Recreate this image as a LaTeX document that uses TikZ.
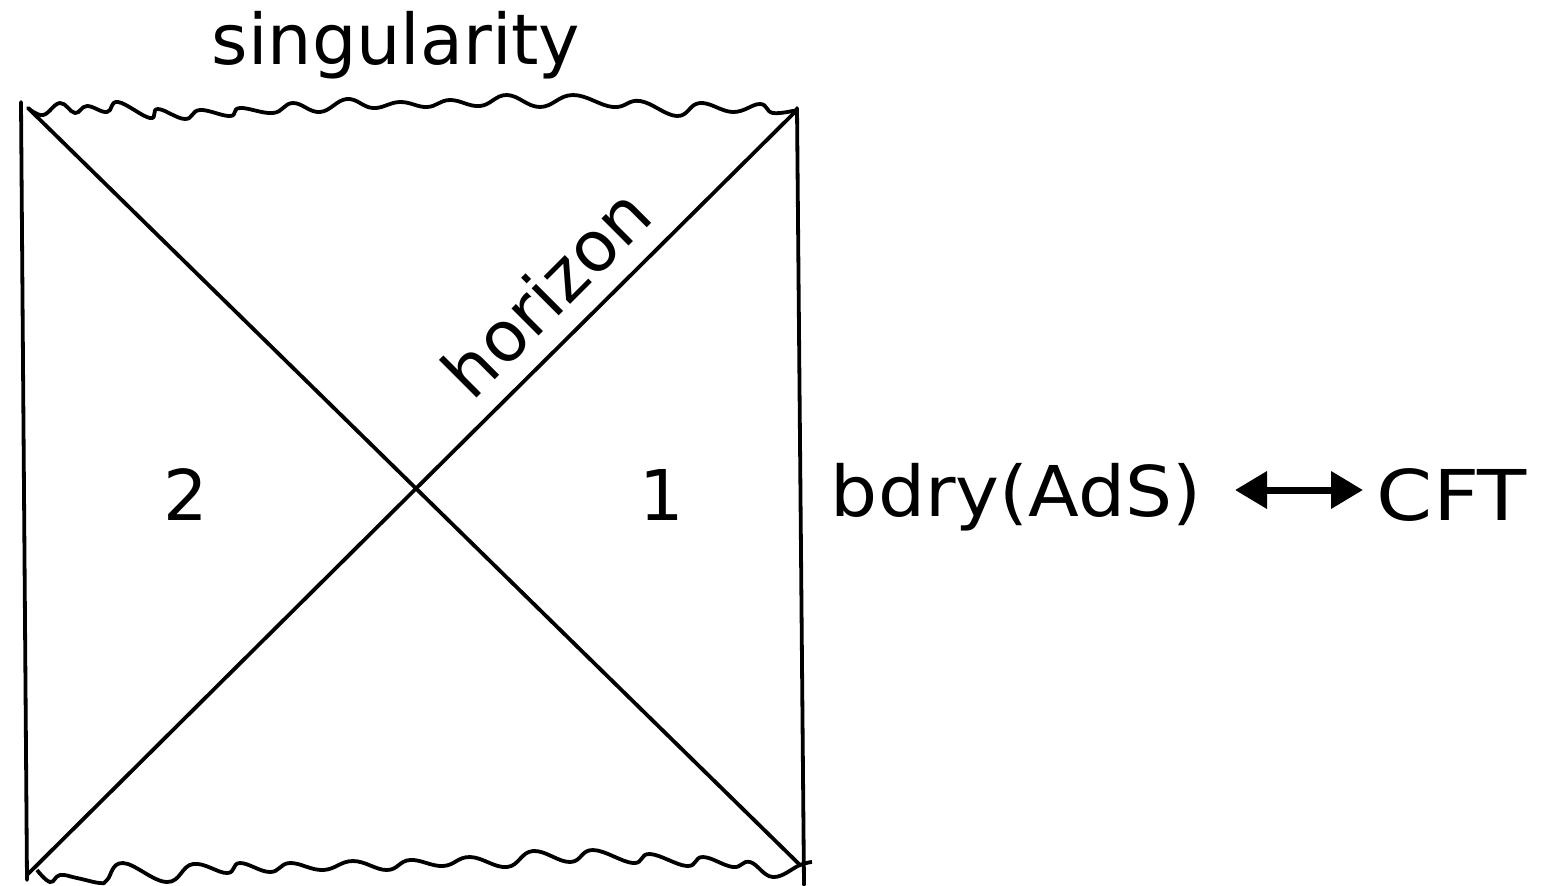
\documentclass[tikz,border=0pt]{standalone}
\usepackage{fontspec}
\setmainfont{DejaVu Sans}
\usetikzlibrary{arrows.meta}
\begin{document}
\begin{tikzpicture}[x=0.5pt,y=-0.5pt,
  edge/.style={line width=1.9pt,line cap=round},
  wave/.style={line width=1.9pt,line join=round},
  lbl/.style={font=\fontsize{35}{40}\selectfont,inner sep=0pt}]
\useasboundingbox (0,0) rectangle (1558,885);
\coordinate (LT) at (21,102);
\coordinate (LB) at (27,880);
\coordinate (RT) at (797,108);
\coordinate (RB) at (804,885);
\coordinate (DTL) at (28,108);
\coordinate (DBR) at (800,865);
\coordinate (DBL) at (27,875);
\coordinate (DTR) at (797,110);
\draw[edge] (LT) -- (LB);
\draw[edge] (RT) -- (RB);
\draw[edge] (DTL) -- (DBR);
\draw[edge] (DBL) -- (DTR);
% singularities
\draw[wave] plot[smooth,tension=0.7] coordinates {(28,108)(43,115)(60,103)(75,113)(87,106)(107,112)(118,102)(150,118)(158,109)(185,119)(200,110)(230,116)(240,108)(273,113)(293,103)(320,112)(347,99)(373,108)(400,102)(427,107)(450,100)(480,106)(507,95)(540,107)(573,95)(613,107)(640,101)(677,116)(700,103)(733,112)(760,104)(773,113)(797,110)};
\draw[wave] plot[smooth,tension=0.7] coordinates {(37,870)(50,882)(60,875)(77,878)(100,883)(107,880)(123,863)(167,882)(193,864)(227,873)(240,863)(270,872)(290,863)(323,870)(353,861)(387,870)(410,860)(443,866)(470,857)(507,867)(533,851)(570,862)(593,850)(633,863)(650,854)(687,866)(703,857)(733,867)(750,862)(773,877)(800,865)(812,862)};
\node[lbl] (sing) at (396,45) {singularity};
\node[lbl,rotate=45] (hor) at (546,292) {horizon};
\node[lbl] (two) at (186,495) {2};
\node[lbl] (one) at (662,495) {1};
\node[lbl,xscale=1.06] (bdry) at (1016,497) {bdry(AdS)};
\node[lbl,xscale=1.15] (cft) at (1452,495) {CFT};
\coordinate (a1) at (1235,490);
\coordinate (a2) at (1363,490);
\draw[line width=3.5pt,{Triangle[length=16pt,width=18pt]}-{Triangle[length=16pt,width=18pt]}] (a1) -- (a2);
\end{tikzpicture}
\end{document}
